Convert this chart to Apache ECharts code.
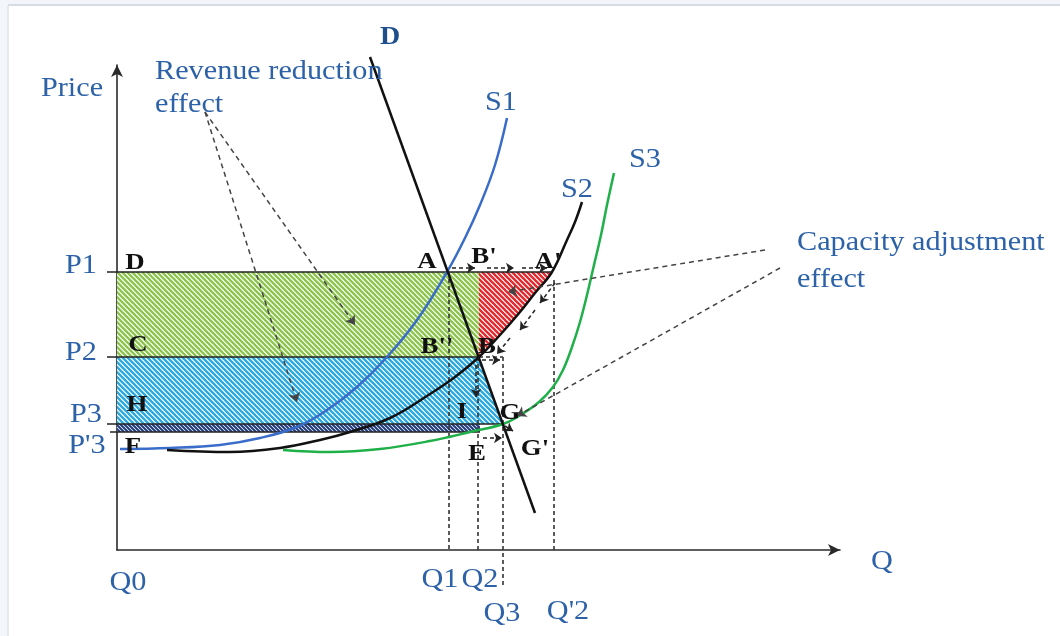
<!DOCTYPE html>
<html><head><meta charset="utf-8">
<script src="https://cdn.jsdelivr.net/npm/echarts@6/dist/echarts.min.js"></script>
<style>html,body{margin:0;padding:0;background:#fff}#c{width:1060px;height:636px}</style>
</head><body><div id="c"></div>
<script>
// Chart units (Q horizontal, P vertical), origin at Q0
const demandD = [[253,493],[418,37]];
const supplyS1 = [[3,101],[53,102],[103,105],[143,112],[180,123],[210,140],[240,163],[270,193],[300,230],[330,278],[348,312],[363,345],[378,385],[390,432]];
const supplyS2 = [[50,100],[113,98],[163,102],[203,110],[233,118],[273,132],[313,156],[338,173],[362,193],[383,215],[403,238],[418,257],[435,278],[450,310],[458,328],[465,348]];
const supplyS3 = [[166,100],[213,98],[263,101],[313,109],[353,118],[386,126],[405,136],[422,148],[436,163],[446,180],[455,203],[463,228],[470,255],[477,285],[484,315],[490,345],[497,377]];

const areaGreen = [[0,278],[362,278],[362,193],[0,193]];
const areaRed = [[362,278],[435,278],[418,257],[403,238],[383,215],[362,193]];
const areaBlue = [[0,193],[362,193],[386,126],[0,126]];
const areaStrip = [[0,126],[363,126],[363,118],[0,118]];

const levelLines = [[[-10,278],[435,278]],[[-10,193],[362,193]],[[-10,126],[386,126]],[[-7,118],[363,118]]];
const guideLines = [[[332,278],[332,0]],[[361,193],[361,0]],[[362,193],[386,193]],[[386,193],[386,-38]],[[437,270],[437,0]]];
const moveArrows = [[[335,282],[358,282]],[[370,282],[397,282]],[[405,282],[430,282]],[[438,267],[423,247]],[[418,240],[403,220]],[[393,212],[380,196]],[[365,190],[383,190]],[[359,185],[359,153]],[[366,112],[385,112]],[[388,124],[396,119]]];
const pointerArrows = [[[88,438],[238,225]],[[88,438],[180,148]],[[648,300],[391,258]],[[663,282],[400,134]]];

const blueLabels = ['Price','S1','S2','S3','P1','P2','P3',"P'3",'Q0','Q','Q1','Q2','Q3',"Q'2"];
const blueLabelPos = [[-45,461],[384,447],[460,360],[528,390],[-36,284],[-36,197],[-31,135],[-30,104],[11,-33],[765,-12],[323,-30],[363,-30],[385,-64],[451,-62]];
const noteLabels = ['Revenue reduction','effect','Capacity adjustment','effect'];
const noteLabelPos = [[38,478],[38,445],[680,307],[680,270]];
const pointLabels = ['D','C','H','F','A',"B'","A'","B''",'B','I','G','E',"G'"];
const pointLabelPos = [[18,287],[21,205],[20,145],[16,103],[310,288],[367,293],[431,288],[320,203],[370,203],[345,138],[393,137],[360,96],[418,101]];
const curveLabels = ['D'];
const curveLabelPos = [[273,512]];

function hatch(color, w, size){
  const c = document.createElement('canvas'); c.width = c.height = size;
  const g = c.getContext('2d');
  g.fillStyle = '#fff'; g.fillRect(0,0,size,size);
  g.strokeStyle = color; g.lineWidth = w; g.beginPath();
  for (const k of [-size,0,size]) { g.moveTo(k-1,-1); g.lineTo(k+size+1,size+1); }
  g.stroke(); return c;
}
const areas = [areaGreen, areaRed, areaBlue, areaStrip];
const fills = [hatch('#8cc44e',2.3,5), hatch('#e5282d',2.3,5), hatch('#2aa8df',2.3,5), hatch('#1f3a7e',2,4)];

const chart = echarts.init(document.getElementById('c'));
const serif = '"Liberation Serif", "DejaVu Serif", serif';
function textSeries(texts, pos, opts){
  return {type:'custom', coordinateSystem:'cartesian2d', z:10, silent:true,
    data: pos,
    renderItem: function(params, api){
      const p = api.coord([api.value(0), api.value(1)]);
      return {type:'text', x:p[0], y:p[1], scaleX:1.12,
        style:{text:texts[params.dataIndex], fill:opts.color, fontSize:opts.size, fontWeight:opts.weight,
          fontFamily:serif, align:opts.align, verticalAlign:'middle'}};
    }};
}
function segs(list){ return list.map(s => ({coords:s})); }
function curve(name, data, color){
  return {type:'line', name:name, data:data, smooth:0.4, showSymbol:false, symbol:'none', clip:false, z:4,
    lineStyle:{color:color, width:2.5}};
}

chart.setOption({
  animation:false,
  backgroundColor:'#fff',
  graphic:[
    {type:'rect', shape:{x:0,y:0,width:1060,height:4}, style:{fill:'#f2f6fa'}},
    {type:'rect', shape:{x:0,y:0,width:7,height:636}, style:{fill:'#f4f7fa'}},
    {type:'line', shape:{x1:8,y1:5,x2:1060,y2:5}, style:{stroke:'#d6dce3', lineWidth:2}},
    {type:'line', shape:{x1:8,y1:5,x2:8,y2:636}, style:{stroke:'#dde3ea', lineWidth:1.5}}
  ],
  grid:{left:117, top:65, width:723, height:485},
  xAxis:{type:'value', min:0, max:723, splitLine:{show:false}, axisTick:{show:false}, axisLabel:{show:false},
    axisLine:{show:true, symbol:['none','arrow'], symbolSize:[9,12], lineStyle:{color:'#2a2a2a', width:1.6}}},
  yAxis:{type:'value', min:0, max:485, splitLine:{show:false}, axisTick:{show:false}, axisLabel:{show:false},
    axisLine:{show:true, symbol:['none','arrow'], symbolSize:[9,12], lineStyle:{color:'#2a2a2a', width:1.6}}},
  series:[
    {type:'custom', coordinateSystem:'cartesian2d', z:1, silent:true,
      data: areas.map(() => [0,0]),
      renderItem: function(params, api){
        const pts = areas[params.dataIndex].map(p => api.coord(p));
        return {type:'polygon', shape:{points:pts}, style:{fill:{image:fills[params.dataIndex], repeat:'repeat'}, stroke:'none'}};
      }},
    {type:'lines', coordinateSystem:'cartesian2d', z:3, clip:false, silent:true, symbol:['none','none'],
      lineStyle:{color:'#222', width:1.6, opacity:1, curveness:0}, data:segs(levelLines)},
    {type:'lines', coordinateSystem:'cartesian2d', z:3, clip:false, silent:true, symbol:['none','none'],
      lineStyle:{color:'#333', width:1.6, type:[4,3], opacity:1}, data:segs(guideLines)},
    curve('S1', supplyS1, '#3a6cc9'),
    curve('S2', supplyS2, '#111'),
    curve('S3', supplyS3, '#1fb04a'),
    {type:'line', name:'D', data:demandD, showSymbol:false, symbol:'none', clip:false, z:4,
      lineStyle:{color:'#111', width:2.5}},
    {type:'lines', coordinateSystem:'cartesian2d', z:5, clip:false, silent:true, symbol:['none','arrow'], symbolSize:8,
      lineStyle:{color:'#222', width:1.5, type:[4,3], opacity:1}, data:segs(moveArrows)},
    {type:'lines', coordinateSystem:'cartesian2d', z:5, clip:false, silent:true, symbol:['none','arrow'], symbolSize:9,
      lineStyle:{color:'#444', width:1.5, type:[5,4], opacity:1}, data:segs(pointerArrows)},
    textSeries(blueLabels, blueLabelPos, {color:'#2d62a8', size:27, weight:'normal', align:'center'}),
    textSeries(noteLabels, noteLabelPos, {color:'#2d62a8', size:27, weight:'normal', align:'left'}),
    textSeries(pointLabels, pointLabelPos, {color:'#111', size:24, weight:'bold', align:'center'}),
    textSeries(curveLabels, curveLabelPos, {color:'#1f4e8c', size:25, weight:'bold', align:'center'})
  ]
});
</script></body></html>
